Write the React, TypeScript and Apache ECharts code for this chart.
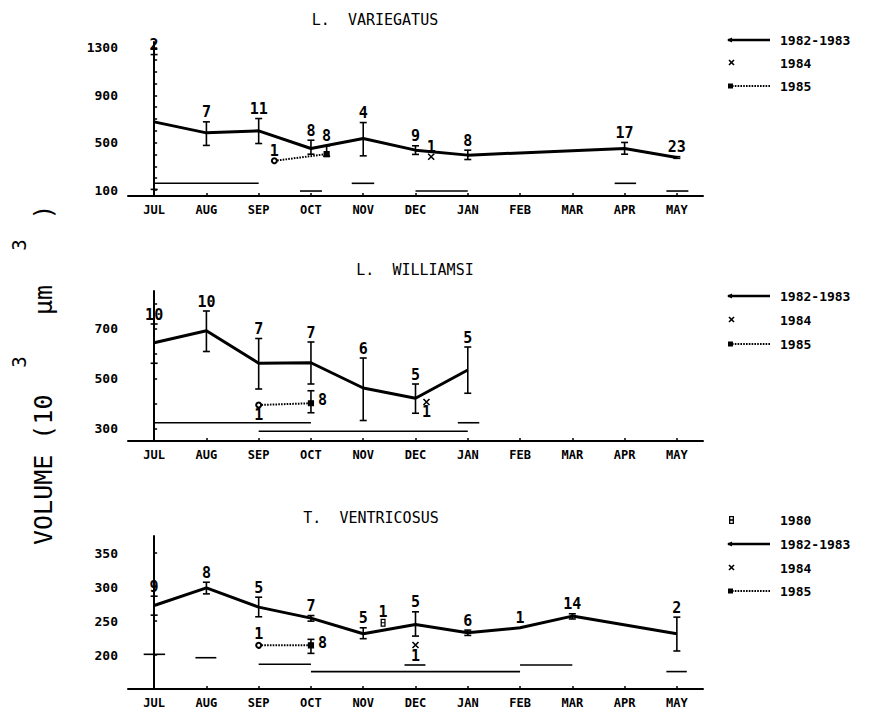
import React, { useEffect, useRef } from 'react';
import * as echarts from 'echarts';

const MONTHS = ['JUL', 'AUG', 'SEP', 'OCT', 'NOV', 'DEC', 'JAN', 'FEB', 'MAR', 'APR', 'MAY'];
const MONTH_IDX = [0, 1, 2, 3, 4, 5, 6, 7, 8, 9, 10];

// ---------- Panel 1: L. VARIEGATUS ----------
const lvMainX = [0, 1, 2, 3, 4, 5, 6, 9, 10];
const lvMainMean = [676, 583, 600, 451, 536, 437, 395, 451, 375];
const lvMainLo = [106, 477, 493, 403, 389, 401, 358, 403, 368];
const lvMainHi = [1244, 676, 704, 521, 670, 474, 437, 502, 382];
const lvMainN = [2, 7, 11, 8, 4, 9, 8, 17, 23];
const lv84X = [5.3];
const lv84Y = [381];
const lv84N = [1];
const lv85X = [2.3, 3.3];
const lv85Mean = [347, 404];
const lv85Lo = [347, 385];
const lv85Hi = [347, 474];
const lv85N = [1, 8];
const lv85Pos = ['top', 'top'];
const lvSegX1 = [0, 2.79, 3.78, 5, 8.81, 9.8];
const lvSegX2 = [2, 3.21, 4.21, 6, 9.22, 10.22];
const lvSegY = [157, 92, 157, 92, 157, 92];
const lvYLabels = [100, 500, 900, 1300];
const lvYTicks = [100, 200, 300, 400, 500, 600, 700, 800, 900, 1000, 1100, 1200, 1300];

// ---------- Panel 2: L. WILLIAMSI ----------
const lwMainX = [0, 1, 2, 3, 4, 5, 6];
const lwMainMean = [643, 691, 561, 563, 462, 421, 534];
const lwMainLo = [561, 608, 458, 478, 332, 361, 441];
const lwMainHi = [718, 770, 660, 646, 582, 478, 626];
const lwMainN = [10, 10, 7, 7, 6, 5, 5];
const lw84X = [5.21];
const lw84Y = [406];
const lw84N = [1];
const lw85X = [2, 3];
const lw85Mean = [394, 401];
const lw85Lo = [394, 363];
const lw85Hi = [394, 451];
const lw85N = [1, 8];
const lw85Pos = ['bottom', 'right'];
const lwSegX1 = [0, 2, 5.81];
const lwSegX2 = [3, 6, 6.22];
const lwSegY = [323, 289, 323];
const lwYLabels = [300, 500, 700];
const lwYTicks = [300, 400, 500, 600, 700, 800];

// ---------- Panel 3: T. VENTRICOSUS ----------
const tvMainX = [0, 1, 2, 3, 4, 5, 6, 7, 8, 10];
const tvMainMean = [272.8, 298.7, 270.4, 254.2, 231.3, 245, 232.7, 240, 257.2, 231.3];
const tvMainLo = [258.6, 289.9, 256.2, 249.8, 224, 227.8, 228.8, 240, 253, 205.9];
const tvMainHi = [286.5, 307, 285, 258, 240, 263.5, 236.6, 240, 260.6, 255.7];
const tvMainN = [9, 8, 5, 7, 5, 5, 6, 1, 14, 2];
const tv80X = [4.38];
const tv80Y = [247.4];
const tv80N = [1];
const tv84X = [5.0];
const tv84Y = [214.7];
const tv84N = [1];
const tv85X = [2, 3];
const tv85Mean = [214.2, 214.2];
const tv85Lo = [214.2, 202.4];
const tv85Hi = [214.2, 223];
const tv85N = [1, 8];
const tv85Pos = ['top', 'right'];
const tvSegX1 = [-0.2, 0.79, 2, 3, 4.79, 7, 9.8];
const tvSegX2 = [0.21, 1.19, 3, 7, 5.19, 8, 10.19];
const tvSegY = [201, 196, 186.3, 175.6, 185.3, 185.3, 175.6];
const tvYLabels = [200, 250, 300, 350];
const tvYTicks = [200, 250, 300, 350];

const FONT_FAMILY = '"DejaVu Sans Mono", "Liberation Mono", monospace';
const X_SYMBOL = 'path://M0,0L10,10M10,0L0,10';
const EIGHT_SYMBOL = 'path://M0,0H4V6H0Z M1,1V2.6H3V1Z M1,3.4V5H3V3.4Z';

function errorBarSeries(gi: number, xs: number[], lo: number[], hi: number[]) {
  const data = xs.map((x, i) => [x, lo[i], hi[i]]).filter((d) => d[2] > d[1]);
  return {
    type: 'custom',
    xAxisIndex: gi,
    yAxisIndex: gi,
    silent: true,
    z: 4,
    data,
    encode: { x: 0, y: [1, 2] },
    renderItem: (params: any, api: any) => {
      const x = api.value(0);
      const a = api.coord([x, api.value(1)]);
      const b = api.coord([x, api.value(2)]);
      const w = 3.5;
      const st = { stroke: '#000', lineWidth: 1.6 };
      return {
        type: 'group',
        children: [
          { type: 'line', shape: { x1: a[0], y1: a[1], x2: b[0], y2: b[1] }, style: st },
          { type: 'line', shape: { x1: a[0] - w, y1: a[1], x2: a[0] + w, y2: a[1] }, style: st },
          { type: 'line', shape: { x1: b[0] - w, y1: b[1], x2: b[0] + w, y2: b[1] }, style: st },
        ],
      };
    },
  };
}

function segSeries(gi: number, x1: number[], x2: number[], y: number[]) {
  return {
    type: 'custom',
    xAxisIndex: gi,
    yAxisIndex: gi,
    silent: true,
    data: x1.map((v, i) => [v, x2[i], y[i]]),
    encode: { x: [0, 1], y: 2 },
    renderItem: (params: any, api: any) => {
      const a = api.coord([api.value(0), api.value(2)]);
      const b = api.coord([api.value(1), api.value(2)]);
      return {
        type: 'line',
        shape: { x1: a[0], y1: a[1], x2: b[0], y2: b[1] },
        style: { stroke: '#000', lineWidth: 1.6 },
      };
    },
  };
}

function labelSeries(gi: number, items: { x: number; y: number; n: number; pos: string }[]) {
  return {
    type: 'scatter',
    xAxisIndex: gi,
    yAxisIndex: gi,
    silent: true,
    symbolSize: 0,
    itemStyle: { color: '#000', opacity: 1 },
    z: 6,
    label: { show: true, color: '#000', opacity: 1, fontSize: 15, fontWeight: 'bold', fontFamily: FONT_FAMILY },
    data: items.map((it) => ({
      value: [it.x, it.y],
      label: {
        show: true,
        formatter: String(it.n),
        position: it.pos,
        distance: it.pos === 'right' ? 7 : 2,
        color: '#000',
        opacity: 1,
        fontSize: 15,
        fontWeight: 'bold',
        fontFamily: FONT_FAMILY,
      },
    })),
  };
}

function mainLine(gi: number, xs: number[], ys: number[]) {
  return {
    type: 'line',
    xAxisIndex: gi,
    yAxisIndex: gi,
    silent: true,
    symbol: 'none',
    lineStyle: { color: '#000', width: 3 },
    z: 5,
    data: xs.map((x, i) => [x, ys[i]]),
  };
}

function dottedLine(gi: number, xs: number[], ys: number[]) {
  return {
    type: 'line',
    xAxisIndex: gi,
    yAxisIndex: gi,
    silent: true,
    lineStyle: { color: '#000', width: 2, type: [1.6, 1.2] },
    z: 5,
    data: xs.map((x, i) => ({
      value: [x, ys[i]],
      symbol: i === 0 ? 'emptyCircle' : 'rect',
      symbolSize: 5,
      itemStyle: { color: '#000', borderColor: '#000', borderWidth: 1.2, opacity: 1 },
    })),
  };
}

function crossSeries(gi: number, xs: number[], ys: number[]) {
  return {
    type: 'scatter',
    xAxisIndex: gi,
    yAxisIndex: gi,
    silent: true,
    symbol: X_SYMBOL,
    symbolSize: 6,
    itemStyle: { color: 'none', borderColor: '#000', borderWidth: 1.6, opacity: 1 },
    z: 5,
    data: xs.map((x, i) => [x, ys[i]]),
  };
}

function makeGrid(top: number, height: number) {
  return { left: 128, right: 177, top, height, containLabel: false };
}

function makeX(gi: number) {
  return {
    type: 'value',
    gridIndex: gi,
    min: -0.5,
    max: 10.5,
    splitLine: { show: false },
    axisLine: { show: true, lineStyle: { color: '#000', width: 2 } },
    axisTick: { show: true, inside: true, length: 3, customValues: MONTH_IDX, lineStyle: { color: '#000', width: 1.5 } },
    axisLabel: {
      customValues: MONTH_IDX,
      formatter: (v: number) => MONTHS[Math.round(v)] ?? '',
      color: '#000',
      fontSize: 12,
      fontWeight: 'bold',
      fontFamily: FONT_FAMILY,
      margin: 8,
    },
  };
}

function makeY(gi: number, min: number, max: number, labels: number[], ticks: number[]) {
  return {
    type: 'value',
    gridIndex: gi,
    min,
    max,
    splitLine: { show: false },
    axisLine: { show: true, lineStyle: { color: '#000', width: 2 } },
    axisTick: { show: true, inside: true, length: 3, customValues: ticks, lineStyle: { color: '#000', width: 1.5 } },
    axisLabel: {
      customValues: labels,
      formatter: (v: number) => String(v),
      color: '#000',
      fontSize: 13,
      fontWeight: 'bold',
      fontFamily: FONT_FAMILY,
      margin: 10,
    },
  };
}

function legendGraphics(x0: number, ys: number[], kinds: string[]) {
  const els: any[] = [];
  const labels: Record<string, string> = { '1980': '1980', main: '1982-1983', '1984': '1984', '1985': '1985' };
  kinds.forEach((k, i) => {
    const y = ys[i];
    if (k === 'main') {
      els.push({ type: 'line', shape: { x1: x0, y1: y, x2: x0 + 42, y2: y }, style: { stroke: '#000', lineWidth: 2.5 } });
      els.push({ type: 'polygon', shape: { points: [[x0 - 1, y], [x0 + 4, y - 2.5], [x0 + 4, y + 2.5]] }, style: { fill: '#000' } });
    } else if (k === '1984') {
      els.push({ type: 'line', shape: { x1: x0 + 1, y1: y - 3, x2: x0 + 6, y2: y + 2 }, style: { stroke: '#000', lineWidth: 1.6 } });
      els.push({ type: 'line', shape: { x1: x0 + 6, y1: y - 3, x2: x0 + 1, y2: y + 2 }, style: { stroke: '#000', lineWidth: 1.6 } });
    } else if (k === '1985') {
      els.push({ type: 'line', shape: { x1: x0 + 4, y1: y, x2: x0 + 42, y2: y }, style: { stroke: '#000', lineWidth: 2, lineDash: [1.6, 1.2] } });
      els.push({ type: 'rect', shape: { x: x0, y: y - 2.5, width: 5, height: 5 }, style: { fill: '#000' } });
    } else if (k === '1980') {
      els.push({ type: 'rect', shape: { x: x0 + 1, y: y - 4, width: 5, height: 8 }, style: { fill: '#000' } });
      els.push({ type: 'rect', shape: { x: x0 + 2.3, y: y - 2.8, width: 2.4, height: 2 }, style: { fill: '#fff' } });
      els.push({ type: 'rect', shape: { x: x0 + 2.3, y: y + 0.8, width: 2.4, height: 2 }, style: { fill: '#fff' } });
    }
    els.push({
      type: 'text',
      x: x0 + 52,
      y,
      style: { text: labels[k], fill: '#000', font: `bold 13px ${FONT_FAMILY}`, verticalAlign: 'middle', align: 'left' },
    });
  });
  return els;
}

function titleText(text: string, x: number, y: number) {
  return {
    type: 'text',
    x,
    y,
    style: { text, fill: '#000', font: `15px ${FONT_FAMILY}`, align: 'center', verticalAlign: 'middle' },
  };
}

function vText(text: string, x: number, y: number, size: number, align: string) {
  return {
    type: 'text',
    x,
    y,
    rotation: Math.PI / 2,
    style: { text, fill: '#000', font: `${size}px ${FONT_FAMILY}`, align, verticalAlign: 'middle' },
  };
}

function buildOption() {
  const lvLabels = [
    ...lvMainX.map((x, i) => ({ x, y: lvMainHi[i], n: lvMainN[i], pos: 'top' })),
    ...lv84X.map((x, i) => ({ x, y: lv84Y[i], n: lv84N[i], pos: 'top' })),
    ...lv85X.map((x, i) => ({ x, y: lv85Pos[i] === 'bottom' ? lv85Lo[i] : lv85Hi[i], n: lv85N[i], pos: lv85Pos[i] })),
  ];
  const lwLabels = [
    ...lwMainX.map((x, i) => ({ x, y: lwMainHi[i], n: lwMainN[i], pos: 'top' })),
    ...lw84X.map((x, i) => ({ x, y: lw84Y[i], n: lw84N[i], pos: 'bottom' })),
    ...lw85X.map((x, i) => ({ x, y: lw85Pos[i] === 'bottom' ? lw85Lo[i] : lw85Pos[i] === 'right' ? lw85Mean[i] + 15 : lw85Hi[i], n: lw85N[i], pos: lw85Pos[i] })),
  ];
  const tvLabels = [
    ...tvMainX.map((x, i) => ({ x, y: tvMainHi[i], n: tvMainN[i], pos: 'top' })),
    ...tv80X.map((x, i) => ({ x, y: tv80Y[i] + 2, n: tv80N[i], pos: 'top' })),
    ...tv84X.map((x, i) => ({ x, y: tv84Y[i] - 2, n: tv84N[i], pos: 'bottom' })),
    ...tv85X.map((x, i) => ({ x, y: tv85Pos[i] === 'right' ? tv85Mean[i] + 4 : tv85Hi[i] + 2, n: tv85N[i], pos: tv85Pos[i] })),
  ];

  const series: any[] = [
    segSeries(0, lvSegX1, lvSegX2, lvSegY),
    errorBarSeries(0, lvMainX, lvMainLo, lvMainHi),
    errorBarSeries(0, lv85X, lv85Lo, lv85Hi),
    mainLine(0, lvMainX, lvMainMean),
    dottedLine(0, lv85X, lv85Mean),
    crossSeries(0, lv84X, lv84Y),
    labelSeries(0, lvLabels),
    segSeries(1, lwSegX1, lwSegX2, lwSegY),
    errorBarSeries(1, lwMainX, lwMainLo, lwMainHi),
    errorBarSeries(1, lw85X, lw85Lo, lw85Hi),
    mainLine(1, lwMainX, lwMainMean),
    dottedLine(1, lw85X, lw85Mean),
    crossSeries(1, lw84X, lw84Y),
    labelSeries(1, lwLabels),
    segSeries(2, tvSegX1, tvSegX2, tvSegY),
    errorBarSeries(2, tvMainX, tvMainLo, tvMainHi),
    errorBarSeries(2, tv85X, tv85Lo, tv85Hi),
    mainLine(2, tvMainX, tvMainMean),
    dottedLine(2, tv85X, tv85Mean),
    crossSeries(2, tv84X, tv84Y),
    {
      type: 'scatter',
      xAxisIndex: 2,
      yAxisIndex: 2,
      silent: true,
      symbol: EIGHT_SYMBOL,
      symbolSize: [5, 8],
      itemStyle: { color: '#000', opacity: 1 },
      z: 6,
      data: tv80X.map((x, i) => [x, tv80Y[i]]),
    },
    labelSeries(2, tvLabels),
  ];

  const graphic: any[] = [
    titleText('L.  VARIEGATUS', 375, 20),
    titleText('L.  WILLIAMSI', 415, 270),
    titleText('T.  VENTRICOSUS', 371, 518),
    ...legendGraphics(728, [40, 63, 86], ['main', '1984', '1985']),
    ...legendGraphics(728, [296, 320, 344], ['main', '1984', '1985']),
    ...legendGraphics(728, [520, 544, 568, 591], ['1980', 'main', '1984', '1985']),
    vText('VOLUME (10', 43, 545, 25, 'left'),
    vText('3', 19, 362, 19, 'center'),
    vText('µm', 43, 300, 25, 'center'),
    vText('3', 19, 245, 19, 'center'),
    vText(')', 43, 212, 25, 'center'),
  ];

  return {
    animation: false,
    backgroundColor: '#fff',
    grid: [makeGrid(42, 154), makeGrid(291, 150), makeGrid(536, 153)],
    xAxis: [makeX(0), makeX(1), makeX(2)],
    yAxis: [
      makeY(0, 50, 1350, lvYLabels, lvYTicks),
      makeY(1, 250, 850, lwYLabels, lwYTicks),
      makeY(2, 150, 375, tvYLabels, tvYTicks),
    ],
    series,
    graphic,
  };
}

export default function App() {
  const ref = useRef<HTMLDivElement>(null);
  useEffect(() => {
    document.body.style.margin = '0';
    if (!ref.current) return;
    const chart = echarts.init(ref.current, null, { renderer: 'svg' });
    chart.setOption(buildOption() as any);
    return () => chart.dispose();
  }, []);
  return <div ref={ref} style={{ width: 880, height: 709 }} />;
}
